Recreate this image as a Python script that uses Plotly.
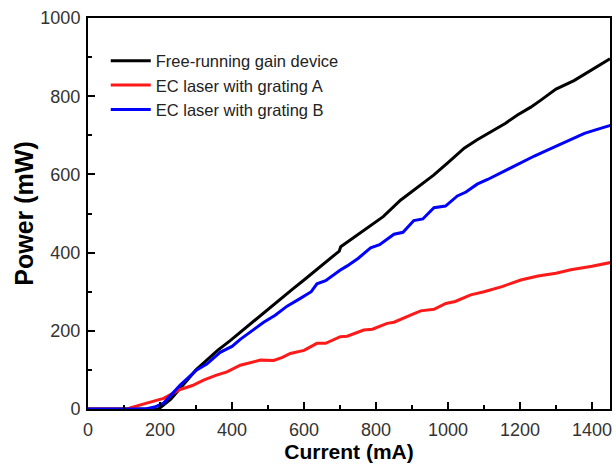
import plotly.graph_objects as go

# Free-running gain device
black_x = [0, 100, 190, 196, 230, 265, 300, 330, 360, 395, 430, 460, 500, 534, 570, 600, 640, 670, 698, 702,
           740, 780, 820, 868, 900, 924, 960, 1000, 1045, 1080, 1120, 1160, 1193, 1230, 1258, 1300, 1350, 1400, 1450]
black_y = [0, 0, 0, 0, 25, 62, 100, 125, 150, 175, 202, 225, 256, 282, 308, 330, 360, 383, 404, 415,
           440, 466, 492, 534, 556, 573, 598, 630, 667, 688, 710, 731, 752, 772, 790, 818, 840, 868, 896]

# EC laser with grating A
red_x = [0, 110, 117, 140, 163, 210, 256, 290, 321, 355, 386, 423, 450, 479, 516, 540, 562, 600, 636, 660,
         701, 720, 766, 790, 831, 850, 896, 924, 961, 994, 1020, 1063, 1100, 1150, 1202, 1250, 1300, 1341, 1400, 1453]
red_y = [0, 0, 3, 8, 15, 27, 50, 60, 74, 86, 95, 112, 118, 125, 124, 132, 142, 150, 168, 168,
         185, 186, 202, 204, 219, 222, 240, 251, 255, 270, 275, 292, 300, 313, 330, 340, 347, 356, 365, 375]

# EC laser with grating B
blue_x = [0, 160, 185, 210, 256, 302, 330, 367, 400, 423, 460, 488, 520, 553, 590, 620, 636, 660, 700, 720,
          750, 785, 810, 850, 875, 905, 930, 961, 993, 1026, 1050, 1081, 1110, 1140, 1175, 1210, 1240, 1267,
          1300, 1340, 1379, 1410, 1453]
blue_y = [0, 0, 5, 15, 61, 100, 115, 145, 160, 178, 203, 222, 240, 263, 283, 300, 320, 328, 355, 366,
          385, 412, 420, 447, 452, 482, 486, 515, 519, 545, 555, 575, 587, 601, 616, 632, 647, 658,
          672, 688, 705, 714, 726]

names = ["Free-running gain device", "EC laser with grating A", "EC laser with grating B"]
colors = ["#000000", "#ff1a1a", "#0000ff"]

fig = go.Figure()
for xs, ys, nm, c in [(black_x, black_y, names[0], colors[0]),
                      (red_x, red_y, names[1], colors[1]),
                      (blue_x, blue_y, names[2], colors[2])]:
    fig.add_trace(go.Scatter(x=xs, y=ys, mode="lines", name=nm,
                             line=dict(color=c, width=3)))

axis_common = dict(
    showline=True, linecolor="black", linewidth=2, mirror=True,
    ticks="inside", ticklen=7, tickwidth=2, tickcolor="black",
    showgrid=False, zeroline=False, automargin=False,
    tickfont=dict(family="Liberation Sans, Arial", size=18, color="#333333"),
)

fig.update_xaxes(range=[0, 1450], dtick=200, tick0=0, ticklabelstandoff=3,
                 minor=dict(dtick=100, ticks="inside", ticklen=4, tickwidth=2, tickcolor="black"),
                 title=dict(text="<b>Current (mA)</b>", font=dict(family="Liberation Sans, Arial", size=21, color="black"),
                            standoff=0),
                 **axis_common)
fig.update_yaxes(range=[0, 1000], dtick=200, tick0=0, ticklabelstandoff=2,
                 minor=dict(dtick=100, ticks="inside", ticklen=4, tickwidth=2, tickcolor="black"),
                 title=dict(text="<b>Power (mW)</b>", font=dict(family="Liberation Sans, Arial", size=25, color="black"),
                            standoff=0),
                 **axis_common)

fig.update_layout(
    width=616, height=470,
    margin=dict(l=88, r=6, t=18, b=61),
    plot_bgcolor="white", paper_bgcolor="white",
    legend=dict(x=0.034, y=0.935, xanchor="left", yanchor="top",
                font=dict(family="Liberation Sans, Arial", size=16.5, color="#222222"),
                bgcolor="rgba(0,0,0,0)", tracegroupgap=0, itemwidth=40),
)

fig.write_html("out.html", config={"displayModeBar": False},
               post_script="document.body.style.margin='0';document.body.style.overflow='hidden';")
